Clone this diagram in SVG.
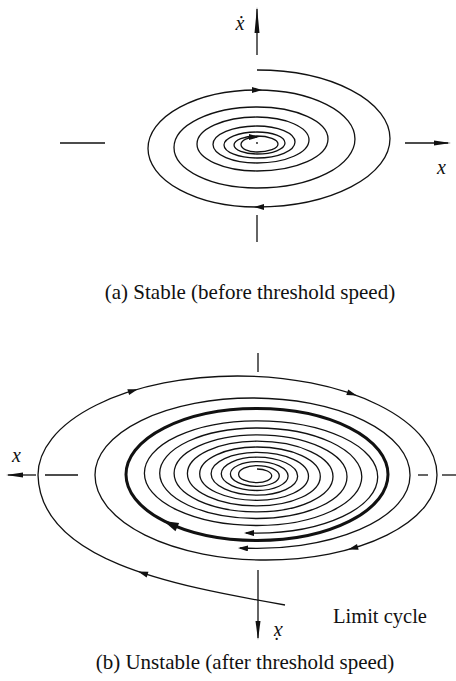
<svg xmlns="http://www.w3.org/2000/svg" xmlns:xlink="http://www.w3.org/1999/xlink" width="456" height="681" viewBox="0 0 456 681">
<style>
.c{fill:none;stroke:#111;stroke-width:1.3}
.thick{fill:none;stroke:#111;stroke-width:3}
.ax{fill:none;stroke:#111;stroke-width:1.3}
.head{fill:#111;stroke:none}
.t{font-family:"Liberation Serif","DejaVu Serif",serif;fill:#111}
.lab{font-style:italic;font-size:20px}
.cap{font-size:21px}
</style>
<defs>
<marker id="end" markerUnits="userSpaceOnUse" markerWidth="10" markerHeight="6" viewBox="0 0 10 6" refX="8" refY="3" orient="auto">
<path d="M0,0 L10,3 L0,6 Z" fill="#111"/>
</marker>
<path id="ah" d="M5,0 L-5,-3 L-5,3 Z" fill="#111"/>
<path id="ahb" d="M7,0 L-8,-4.5 L-8,4.5 Z" fill="#111"/>
</defs>
<rect width="456" height="681" fill="#fff"/>

<g id="panel-a">
<g id="axes-a">
<line class="ax" x1="257" y1="9" x2="257" y2="55"/>
<path class="head" d="M257,7 L259.5,33 L254.5,33 Z"/>
<line class="ax" x1="257" y1="215" x2="257" y2="242"/>
<line class="ax" x1="60" y1="143" x2="105" y2="143"/>
<line class="ax" x1="405" y1="143" x2="448" y2="143"/>
<path class="head" d="M451,143 L434,140.5 L434,145.5 Z"/>
<text class="t lab" x="240" y="30" text-anchor="middle">ẋ</text>
<text class="t lab" x="437" y="174">x</text>
</g>
<g id="spiral-a">
<path class="c" marker-end="url(#end)" d="M257,70 A133,68.5 0 0 1 257,207 A109,58.5 0 0 1 257,90 A98,49 0 0 1 257,188 A83,40.5 0 0 1 257,107 A71,32 0 0 1 257,171 A60,27 0 0 1 257,117 A52,23 0 0 1 257,163 A44,18.5 0 0 1 257,126 A38,16 0 0 1 257,158 A33,13 0 0 1 257,132 A28,11 0 0 1 257,154 A23,9 0 0 1 257,136 A21,8 0 0 1 257,152 A16,7.5 0 0 1 257,137"/>
<use xlink:href="#ah" transform="translate(257,90)"/>
<use xlink:href="#ah" transform="translate(259,207) rotate(180)"/>
<circle cx="257" cy="143" r="0.9" fill="#111"/>
</g>
<text class="t cap" x="250" y="299" text-anchor="middle">(a) Stable (before threshold speed)</text>
</g>

<g id="panel-b">
<g id="axes-b">
<line class="ax" x1="258" y1="353" x2="258" y2="372"/>
<line class="ax" x1="258" y1="570" x2="258" y2="638"/>
<path class="head" d="M258,640 L260.5,621 L255.5,621 Z"/>
<line class="ax" x1="8" y1="475" x2="36" y2="475"/>
<path class="head" d="M6,475 L23,472.5 L23,477.5 Z"/>
<line class="ax" x1="45" y1="475" x2="78" y2="475"/>
<line class="ax" x1="418" y1="475" x2="428" y2="475"/>
<line class="ax" x1="442" y1="475" x2="456" y2="475"/>
<text class="t lab" x="12" y="462">x</text>
<text class="t lab" text-anchor="middle" transform="translate(278,626) rotate(180)">ẋ</text>
</g>
<g id="inner-spiral-b">
<path class="c" marker-end="url(#end)" d="M257,469 A14.7,6.85 0 0 1 257,482.7 A18.4,8.55 0 0 1 257,465.6 A22.3,10.35 0 0 1 257,486.3 A26.6,12.35 0 0 1 257,461.6 A31.1,14.45 0 0 1 257,490.5 A35.8,16.65 0 0 1 257,457.2 A40.7,18.95 0 0 1 257,495.1 A45.9,21.35 0 0 1 257,452.4 A51.5,23.95 0 0 1 257,500.3 A57.3,26.65 0 0 1 257,447 A63.3,29.45 0 0 1 257,505.9 A69.6,32.35 0 0 1 257,441.2 A76,35.35 0 0 1 257,511.9 A82.9,38.55 0 0 1 257,434.8 A90,41.85 0 0 1 257,518.5 A97.3,45.25 0 0 1 257,428 A104.8,48.75 0 0 1 257,525.5 A112.6,52.35 0 0 1 257,420.8 A120.7,56.15 0 0 1 257,533.1 L246,533"/>
</g>
<g id="limit-cycle">
<ellipse class="thick" cx="257" cy="474.5" rx="131" ry="66"/>
<use xlink:href="#ahb" transform="translate(170,523.9) rotate(204)"/>
</g>
<g id="outer-trajectory">
<path class="c" marker-end="url(#end)" d="M285,605 C170,585 40,560 38,475 A199.5,99 0 0 1 437,475 A171,85 0 0 1 95,475 A157.5,77 0 0 1 410,475 A153,73 0 0 1 240,548"/>
<use xlink:href="#ah" transform="translate(142.8,573) rotate(198)"/>
<use xlink:href="#ah" transform="translate(133,390.6) rotate(-17)"/>
<use xlink:href="#ah" transform="translate(352,393.9) rotate(19)"/>
<use xlink:href="#ah" transform="translate(353,548.2) rotate(164)"/>
</g>
<text class="t" x="333" y="623" font-size="20.5">Limit cycle</text>
<text class="t cap" x="245" y="669" text-anchor="middle">(b) Unstable (after threshold speed)</text>
</g>
</svg>
